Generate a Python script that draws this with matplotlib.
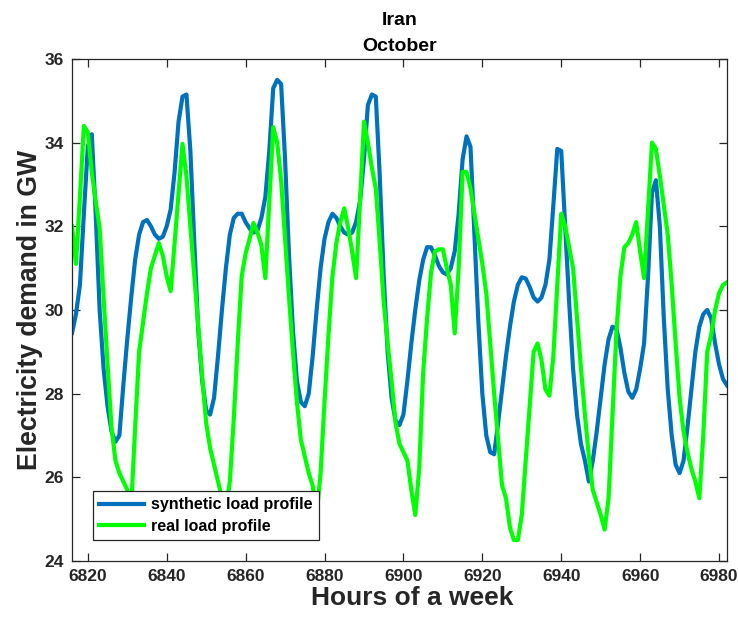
import matplotlib
matplotlib.use("Agg")
import matplotlib.pyplot as plt
import numpy as np

plt.rcParams['font.family'] = ['Liberation Sans', 'DejaVu Sans']
plt.rcParams['font.weight'] = 'bold'

start_hour = 6816
end_hour = 6982

# hourly demand in GW, hours 6816 .. 6982
synthetic = [
    29.45, 29.9, 30.6, 32.3, 33.9, 34.2, 32.3, 30.0, 28.6, 27.7,
    27.1, 26.85, 27.0, 28.2, 29.3, 30.3, 31.2, 31.8, 32.1, 32.15,
    32.0, 31.8, 31.7, 31.75, 32.0, 32.4, 33.3, 34.5, 35.1, 35.15,
    33.8, 31.6, 29.5, 28.3, 27.6, 27.5, 27.9, 28.9, 30.0, 31.0,
    31.8, 32.2, 32.3, 32.3, 32.1, 31.95, 31.85, 31.9, 32.2, 32.7,
    33.8, 35.3, 35.5, 35.4, 33.6, 31.3, 29.5, 28.3, 27.8, 27.7,
    28.0, 28.9, 30.0, 31.0, 31.7, 32.1, 32.3, 32.2, 32.0, 31.85,
    31.8, 31.85, 32.1, 32.6, 33.6, 34.9, 35.15, 35.1, 33.2, 30.8,
    29.0, 27.9, 27.35, 27.25, 27.5, 28.3, 29.2, 30.0, 30.7, 31.2,
    31.5, 31.5, 31.3, 31.05, 30.9, 30.85, 31.0, 31.4, 32.3, 33.6,
    34.15, 33.9, 31.8, 29.7, 28.0, 27.0, 26.6, 26.55, 27.3, 28.1,
    28.9, 29.6, 30.2, 30.6, 30.78, 30.75, 30.55, 30.3, 30.2, 30.3,
    30.6, 31.2, 32.5, 33.85, 33.8, 32.0, 30.2, 28.6, 27.5, 26.8,
    26.4, 25.9, 26.4, 27.1, 27.9, 28.7, 29.3, 29.6, 29.55, 29.1,
    28.5, 28.05, 27.9, 28.1, 28.6, 29.2, 30.8, 32.8, 33.1, 32.0,
    29.8, 28.1, 27.0, 26.3, 26.1, 26.4, 27.2, 28.1, 29.0, 29.6,
    29.9, 30.0, 29.8, 29.2, 28.7, 28.35, 28.2,
]

real = [
    32.0, 31.1, 32.7, 34.4, 34.25, 33.3, 32.6, 31.95, 30.3, 28.7,
    27.2, 26.4, 26.1, 25.9, 25.7, 25.3, 27.2, 29.0, 29.7, 30.4,
    31.0, 31.3, 31.6, 31.3, 30.8, 30.45, 31.6, 32.8, 33.97, 33.2,
    32.0, 30.8, 29.6, 28.4, 27.3, 26.7, 26.3, 25.9, 25.5, 25.2,
    25.9, 27.4, 29.2, 30.8, 31.35, 31.7, 32.08, 31.85, 31.55, 30.76,
    32.6, 34.37, 34.0, 33.1, 31.7, 30.3, 29.0, 27.8, 26.9, 26.5,
    26.1, 25.8, 25.1, 26.1, 27.8, 29.4, 30.8, 31.6, 32.1, 32.43,
    31.95, 31.4, 30.76, 32.6, 34.5, 34.0, 33.4, 32.9, 31.6, 30.2,
    29.2, 28.3, 27.3, 26.8, 26.6, 26.4, 25.7, 25.1, 26.2, 28.5,
    29.8, 30.9, 31.4, 31.45, 31.45, 31.0, 30.6, 29.44, 31.0, 33.3,
    33.3, 32.9, 32.3, 31.7, 31.1, 30.4, 29.2, 28.0, 26.9, 25.8,
    25.5, 24.8, 24.5, 24.5, 25.1, 26.4, 27.7, 29.0, 29.2, 28.8,
    28.1, 27.95, 28.9, 30.6, 32.3, 32.0, 31.5, 31.0, 29.8, 28.6,
    27.5, 26.5, 25.7, 25.4, 25.1, 24.75, 25.5, 27.5, 29.5, 30.8,
    31.5, 31.6, 31.8, 32.1, 31.4, 30.76, 32.4, 34.0, 33.85, 33.2,
    32.5, 31.8, 30.6, 29.2, 27.9, 27.1, 26.6, 26.2, 25.9, 25.5,
    27.0, 29.0, 29.4, 30.0, 30.4, 30.6, 30.66,
]

hours = np.arange(start_hour, end_hour + 1)
x_ticks = np.arange(6820, 6981, 20)
y_ticks = np.arange(24, 37, 2)

fig = plt.figure(figsize=(7.38, 6.27), dpi=100)
ax = fig.add_axes([0.0976, 0.1053, 0.8874, 0.8007])

ax.plot(hours, synthetic, color='#0072BD', lw=3, label='synthetic load profile')
ax.plot(hours, real, color='#00FF00', lw=3, label='real load profile')

ax.set_xlim(start_hour, end_hour)
ax.set_ylim(24, 36)
ax.set_xticks(x_ticks)
ax.set_yticks(y_ticks)

dark = '#262626'
for s in ax.spines.values():
    s.set_color(dark)
    s.set_linewidth(0.9)
ax.tick_params(direction='in', length=6, width=0.9, top=True, right=True,
               colors=dark, labelsize=12.5, pad=6)
for lab in ax.get_xticklabels() + ax.get_yticklabels():
    lab.set_fontweight('bold')

ax.set_xlabel('Hours of a week', fontsize=19, fontweight='bold', color=dark, labelpad=1)
ax.xaxis.set_label_coords(0.52, -0.049)
ax.set_ylabel('Electricity demand in GW', fontsize=19.2, fontweight='bold', color=dark, labelpad=0)
ax.yaxis.set_label_coords(-0.045, 0.5)
ax.set_title('Iran\nOctober', fontsize=14, fontweight='bold', color='black', pad=6,
             linespacing=1.65)

leg = ax.legend(loc='lower left', bbox_to_anchor=(0.032, 0.042), borderaxespad=0,
                fancybox=False, framealpha=1, edgecolor=dark,
                handlelength=2.8, handletextpad=0.45, labelspacing=0.4, borderpad=0.4,
                prop={'weight': 'bold', 'size': 11.5})
leg.get_frame().set_linewidth(0.9)

fig.savefig('out.png', dpi=100)
